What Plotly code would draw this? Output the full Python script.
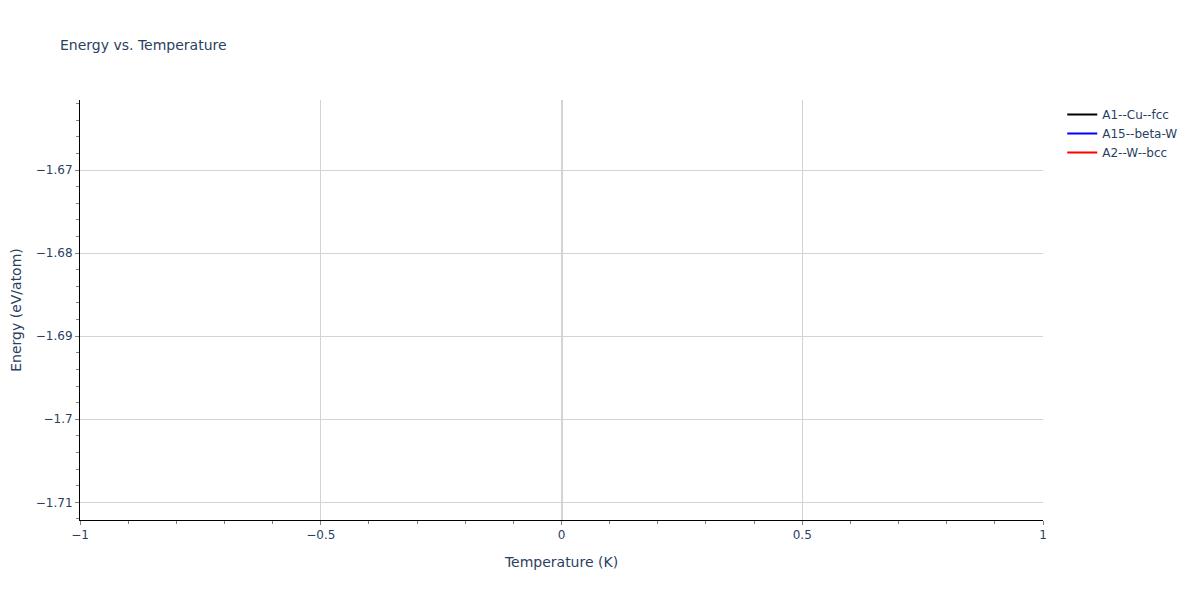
import plotly.graph_objects as go

# one entry per structure: temperature (K) and energy (eV/atom)
structures = ["A1--Cu--fcc", "A15--beta-W", "A2--W--bcc"]
colors = ["black", "blue", "red"]
temperatures = [[0], [0], [0]]
energies = [[-1.6641], [-1.6905], [-1.7096]]

fig = go.Figure()
for name, color, t, e in zip(structures, colors, temperatures, energies):
    fig.add_trace(go.Scatter(x=t, y=e, mode="lines", name=name,
                             line=dict(color=color)))

axis_style = dict(
    showline=True, linecolor="black", linewidth=1,
    showgrid=True, gridcolor="lightgray",
    ticks="outside", ticklen=4, tickcolor="gray",
    minor=dict(ticks="outside", ticklen=3, tickcolor="gray", showgrid=False),
    zeroline=True, zerolinecolor="lightgray", zerolinewidth=2,
    title_font_size=14, automargin=False,
)

fig.update_layout(
    title=dict(text="Energy vs. Temperature", x=52 / 1200, xanchor="left",
               y=1 - 37 / 600, yanchor="middle", font_size=14),
    font=dict(family="DejaVu Sans", size=12),
    plot_bgcolor="white",
    paper_bgcolor="white",
    width=1200, height=600,
    margin=dict(l=72, r=165, t=92, b=88),
)
fig.update_xaxes(title_text="Temperature (K)", **axis_style)
fig.update_yaxes(title_text="Energy (eV/atom)", **axis_style)

fig.write_html("out.html")
